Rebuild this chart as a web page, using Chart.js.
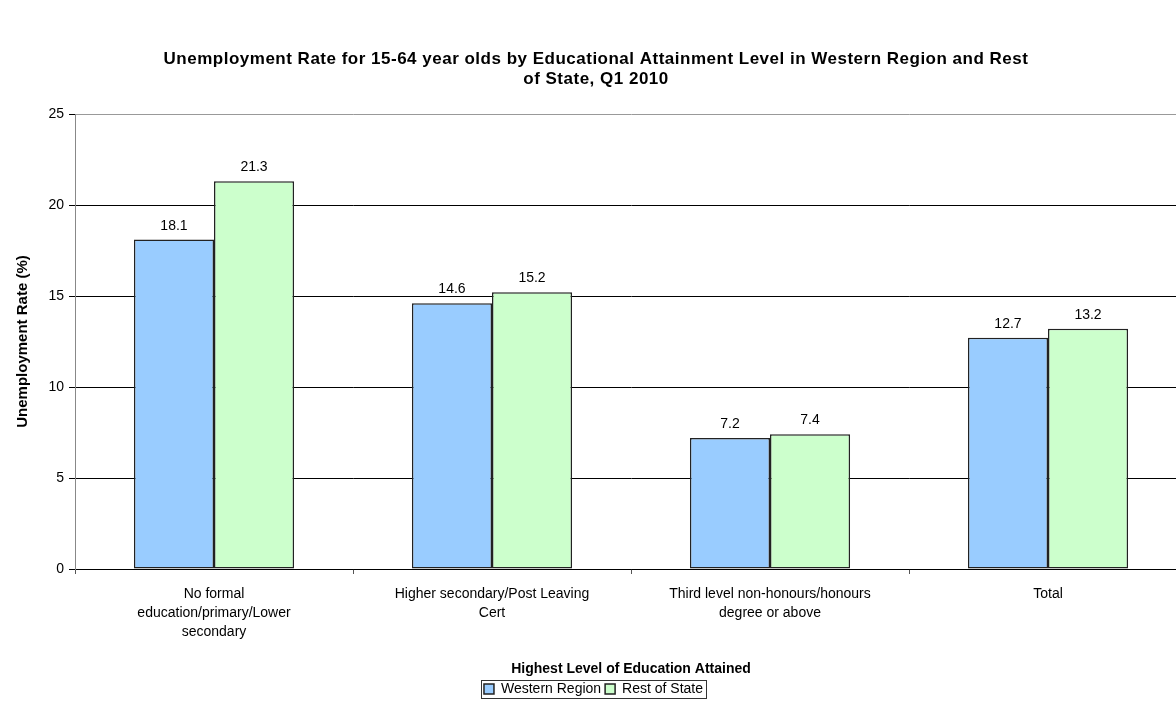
<!DOCTYPE html>
<html>
<head>
<meta charset="utf-8">
<script src="https://cdn.jsdelivr.net/npm/chart.js@4/dist/chart.umd.min.js"></script>
<style>
  html, body { margin: 0; padding: 0; background: #fff; overflow: hidden; }
  #wrap { width: 1188px; height: 722px; }
</style>
</head>
<body>
<div id="wrap"><canvas id="chart"></canvas></div>
<script>
const titleLines = [
  'Unemployment Rate for 15-64 year olds by Educational Attainment Level in Western Region and Rest',
  'of State, Q1 2010'
];
const categories = [
  ['No formal', 'education/primary/Lower', 'secondary'],
  ['Higher secondary/Post Leaving', 'Cert'],
  ['Third level non-honours/honours', 'degree or above'],
  'Total'
];
const westernRegion = [18.1, 14.6, 7.2, 12.7];
const restOfState = [21.3, 15.2, 7.4, 13.2];
const yTicks = [0, 5, 10, 15, 20, 25];

const FONT = '"Liberation Sans", Arial, sans-serif';

// bold two-line heading, centred over the page
const heading = {
  id: 'heading',
  afterDraw(chart) {
    const ctx = chart.ctx;
    ctx.save();
    ctx.font = 'bold 17px ' + FONT;
    ctx.letterSpacing = '0.5px';
    ctx.fillStyle = '#000';
    ctx.textAlign = 'center';
    ctx.textBaseline = 'middle';
    titleLines.forEach((line, i) => ctx.fillText(line, 596, 59 + i * 20));
    ctx.restore();
  }
};

// value labels above each bar
const barLabels = {
  id: 'barLabels',
  afterDatasetsDraw(chart) {
    const ctx = chart.ctx;
    ctx.save();
    ctx.font = '14px ' + FONT;
    ctx.fillStyle = '#000';
    ctx.textAlign = 'center';
    ctx.textBaseline = 'alphabetic';
    chart.data.datasets.forEach((ds, i) => {
      chart.getDatasetMeta(i).data.forEach((bar, j) => {
        ctx.fillText(ds.data[j].toFixed(1), bar.x, bar.y - 10);
      });
    });
    ctx.restore();
  }
};

// thin frame around the legend items
const legendFrame = {
  id: 'legendFrame',
  afterDraw(chart) {
    const boxes = chart.legend && chart.legend.legendHitBoxes;
    if (!boxes || !boxes.length) return;
    const left = Math.min(...boxes.map(b => b.left)) - 3;
    const right = Math.max(...boxes.map(b => b.left + b.width)) + 3;
    const top = Math.min(...boxes.map(b => b.top)) - 2;
    const bottom = Math.max(...boxes.map(b => b.top + b.height)) + 2;
    const ctx = chart.ctx;
    ctx.save();
    ctx.strokeStyle = '#333';
    ctx.lineWidth = 1;
    ctx.strokeRect(Math.round(left) + 0.5, Math.round(top) + 0.5, Math.round(right - left), Math.round(bottom - top));
    ctx.restore();
  }
};

new Chart(document.getElementById('chart'), {
  type: 'bar',
  data: {
    labels: categories,
    datasets: [
      {
        label: 'Western Region',
        data: westernRegion,
        backgroundColor: '#99CCFF',
        borderColor: '#222',
        borderWidth: 1.5,
        borderSkipped: false
      },
      {
        label: 'Rest of State',
        data: restOfState,
        backgroundColor: '#CCFFCC',
        borderColor: '#222',
        borderWidth: 1.5,
        borderSkipped: false
      }
    ]
  },
  options: {
    responsive: true,
    maintainAspectRatio: false,
    animation: false,
    // top padding leaves room for the heading
    layout: { padding: { left: 0, right: 1, top: 114, bottom: 16 } },
    datasets: {
      bar: { categoryPercentage: 0.576, barPercentage: 1 }
    },
    plugins: {
      tooltip: { enabled: false },
      title: { display: false },
      legend: {
        position: 'bottom',
        labels: {
          color: '#000',
          font: { family: FONT, size: 14 },
          boxWidth: 10,
          boxHeight: 10,
          padding: 4
        }
      }
    },
    scales: {
      x: {
        afterFit(scale) { scale.height = 109; },
        border: { color: '#000', width: 1 },
        grid: {
          offset: true,
          drawOnChartArea: false,
          tickLength: 5,
          color: '#555'
        },
        ticks: {
          color: '#000',
          font: { family: FONT, size: 14, lineHeight: 1.35 },
          padding: 11,
          maxRotation: 0,
          autoSkip: false
        },
        title: {
          display: true,
          text: 'Highest Level of Education Attained',
          color: '#000',
          font: { family: FONT, size: 14, weight: 'bold' },
          padding: { top: 0, bottom: 0 }
        }
      },
      y: {
        min: 0,
        max: 25,
        afterFit(scale) { scale.width = 75; },
        afterBuildTicks(scale) { scale.ticks = yTicks.map(v => ({ value: v })); },
        border: { color: '#888', width: 1 },
        grid: {
          color: ctx => (ctx.tick && ctx.tick.value === 25 ? '#999' : '#000'),
          lineWidth: 1,
          tickLength: 6,
          tickColor: '#000'
        },
        ticks: {
          color: '#000',
          font: { family: FONT, size: 14 },
          padding: 5
        },
        title: {
          display: true,
          text: 'Unemployment Rate (%)',
          color: '#000',
          font: { family: FONT, size: 15, weight: 'bold' },
          padding: { top: 14, bottom: 0 }
        }
      }
    }
  },
  plugins: [barLabels, legendFrame, heading]
});
</script>
</body>
</html>
